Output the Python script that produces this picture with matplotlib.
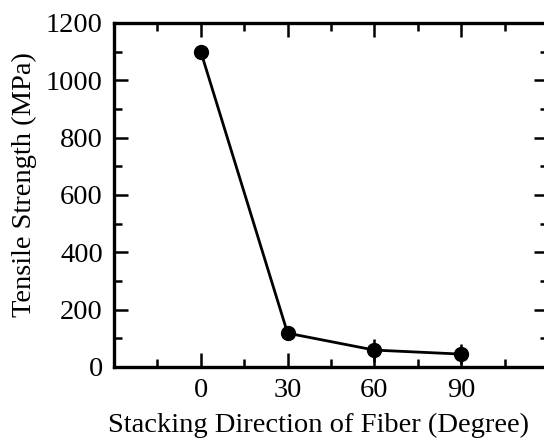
import matplotlib
matplotlib.use("Agg")
import matplotlib.pyplot as plt
from matplotlib.ticker import MultipleLocator

angles = [0, 30, 60, 90]
strength = [1100, 118, 59, 45]
errors = [15, 20, 40, 35]

plt.rcParams['font.family'] = ['Liberation Serif', 'DejaVu Serif']
fig = plt.figure(figsize=(5.44, 4.42), dpi=100)
L, R, T, B = 114, 548, 23, 367
ax = fig.add_axes([L/544, (442-B)/442, (R-L)/544, (B-T)/442])

ax.errorbar(angles, strength, yerr=errors, color='black', marker='o', markersize=10,
            linewidth=2.0, capsize=0, elinewidth=1.8)

ax.set_xlim(-30, 120)
ax.set_ylim(0, 1200)
ax.set_xticks(angles)
ax.xaxis.set_minor_locator(MultipleLocator(15))
ax.yaxis.set_major_locator(MultipleLocator(200))
ax.yaxis.set_minor_locator(MultipleLocator(100))
ax.tick_params(which='both', direction='in', top=True, right=True, width=1.8, labelsize=20.5)
ax.tick_params(which='major', length=10)
ax.tick_params(which='minor', length=6)
ax.tick_params(axis='x', pad=8)
ax.tick_params(axis='y', pad=8)
for s in ax.spines.values():
    s.set_linewidth(2.4)
ax.set_xlabel('Stacking Direction of Fiber (Degree)', fontsize=20.5)
ax.set_ylabel('Tensile Strength (MPa)', fontsize=20.5)
ax.xaxis.set_label_coords((318.5 - L) / (R - L), (B - 413) / (B - T))
ax.yaxis.set_label_coords((37 - L) / (R - L), (B - 185) / (B - T))
fig.savefig('out.png', dpi=100)
